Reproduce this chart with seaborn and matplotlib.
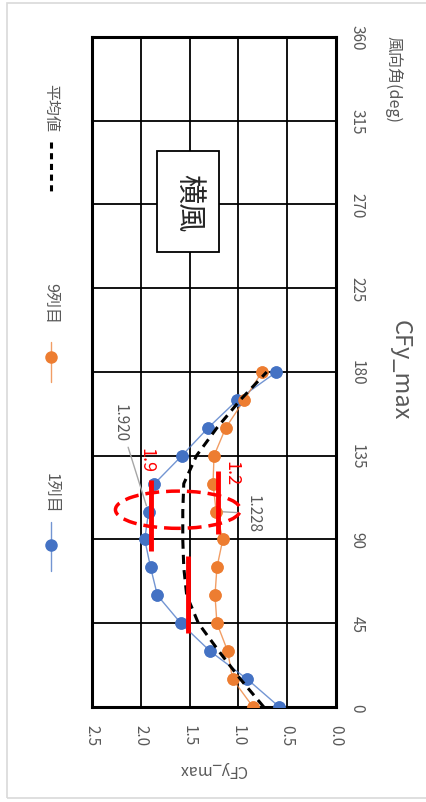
import matplotlib
matplotlib.use("Agg")
import matplotlib.pyplot as plt
from matplotlib.patches import Ellipse, Rectangle
from matplotlib.lines import Line2D
import seaborn as sns

sns.set_style("white")
plt.rcParams['font.family'] = ['Noto Sans CJK JP', 'DejaVu Sans']

# wind angle (deg) and CFy_max values
angles = [0, 15, 30, 45, 60, 75, 90, 105, 120, 135, 150, 165, 180]
col1 = [0.58, 0.91, 1.29, 1.59, 1.83, 1.90, 1.96, 1.92, 1.86, 1.58, 1.31, 1.01, 0.61]
col9 = [0.85, 1.06, 1.11, 1.22, 1.24, 1.22, 1.16, 1.228, 1.26, 1.25, 1.13, 0.94, 0.76]
mean = [0.74, 0.98, 1.20, 1.41, 1.53, 1.56, 1.57, 1.57, 1.56, 1.43, 1.22, 0.98, 0.71]
val_ticks = [0.0, 0.5, 1.0, 1.5, 2.0, 2.5]
ang_ticks = [0, 45, 90, 135, 180, 225, 270, 315, 360]

blue = '#4472C4'
orange = '#ED7D31'
grey = '#595959'

fig = plt.figure(figsize=(4.27, 8.03), dpi=100)
ax = fig.add_axes([0.2155, 0.1183, 0.5714, 0.8344])

# chart is drawn rotated: value on x (reversed), angle on y
sns.lineplot(x=col1, y=angles, orient='y', ax=ax, color=blue, lw=1, alpha=0.75,
             marker='o', markersize=9, markeredgewidth=0, zorder=4)
sns.lineplot(x=col9, y=angles, orient='y', ax=ax, color=orange, lw=1, alpha=0.75,
             marker='o', markersize=9, markeredgewidth=0, zorder=4)
# redraw markers fully opaque
ax.plot(col1, angles, 'o', color=blue, markersize=9, markeredgewidth=0, zorder=4)
ax.plot(col9, angles, 'o', color=orange, markersize=9, markeredgewidth=0, zorder=4)
sns.lineplot(x=mean, y=angles, orient='y', ax=ax, color='black', lw=2.2,
             linestyle=(0, (3, 2)), zorder=5)

ax.set_xlim(2.5, 0)
ax.set_ylim(0, 360)
ax.set_xticks(val_ticks)
ax.set_xticklabels([f'{v:.1f}' for v in val_ticks], rotation=-90, color=grey, fontsize=11)
ax.set_yticks(ang_ticks)
ax.set_yticklabels([str(a) for a in ang_ticks], rotation=-90, color=grey, fontsize=11,
                   va='center')
ax.yaxis.tick_right()
ax.tick_params(axis='x', length=0, pad=12)
ax.tick_params(axis='y', length=0, pad=9)
ax.grid(True, color='black', lw=1.3)
ax.set_axisbelow(True)
for s in ax.spines.values():
    s.set_visible(True)
    s.set_color('black')
    s.set_linewidth(2.2)
ax.set_xlabel('')
ax.set_ylabel('')

# red marks
ax.plot([1.9, 1.9], [84, 122], color='red', lw=3.5, zorder=6, solid_capstyle='butt')
ax.plot([1.21, 1.21], [93, 127], color='red', lw=3.5, zorder=6, solid_capstyle='butt')
ax.plot([1.52, 1.52], [40, 81], color='red', lw=3.5, zorder=6, solid_capstyle='butt')
ax.add_patch(Ellipse((1.62, 106), 1.28, 20, fill=False, edgecolor='red', lw=2.5,
                     linestyle=(0, (4, 2)), zorder=6))
ax.text(1.94, 133, '1.9', color='red', rotation=-90, fontsize=13, ha='center', va='center', zorder=7)
ax.text(1.07, 126, '1.2', color='red', rotation=-90, fontsize=13, ha='center', va='center', zorder=7)

# data labels
ax.annotate('1.920', xy=(1.93, 106), xytext=(2.21, 153), rotation=-90, color=grey,
            fontsize=11, ha='center', va='center',
            arrowprops=dict(arrowstyle='-', color='#a6a6a6', lw=1, shrinkA=2, shrinkB=3))
ax.annotate('1.228', xy=(1.20, 105), xytext=(0.85, 104), rotation=-90, color=grey,
            fontsize=11, ha='center', va='center',
            arrowprops=dict(arrowstyle='-', color='#a6a6a6', lw=1, shrinkA=2, shrinkB=3))

# 横風 box
ax.add_patch(Rectangle((1.20, 244.5), 0.63, 54.5, facecolor='white', edgecolor='black',
                       lw=1.3, zorder=6))
ax.text(1.515, 271.5, '横風', rotation=-90, fontsize=21, ha='center', va='center',
        color='#262626', zorder=7)

# titles
fig.text(400 / 427, 1 - 370 / 803, 'CFy_max', rotation=-90, fontsize=17, color=grey,
         ha='center', va='center')
fig.text(393 / 427, 1 - 80 / 803, '風向角(deg)', rotation=-90, fontsize=11.5, color=grey,
         ha='center', va='center')
fig.text(213 / 427, 1 - 770 / 803, 'CFy_max', rotation=180, fontsize=11.5, color=grey,
         ha='center', va='center')

# legend (rotated)
lx = 51 / 427
def fy(p):
    return 1 - p / 803
fig.add_artist(Line2D([lx, lx], [fy(523), fy(572)], color=blue, lw=1, alpha=0.75))
fig.add_artist(Line2D([lx], [fy(546)], color=blue, marker='o', markersize=9, markeredgewidth=0))
fig.text(lx, fy(493), '1列目', rotation=-90, fontsize=11.5, color=grey, ha='center', va='center')
fig.add_artist(Line2D([lx, lx], [fy(343), fy(383)], color=orange, lw=1, alpha=0.75))
fig.add_artist(Line2D([lx], [fy(358)], color=orange, marker='o', markersize=9, markeredgewidth=0))
fig.text(lx, fy(304), '9列目', rotation=-90, fontsize=11.5, color=grey, ha='center', va='center')
fig.add_artist(Line2D([lx, lx], [fy(143), fy(193)], color='black', lw=2.2, linestyle=(0, (2, 1.5))))
fig.text(lx, fy(108), '平均値', rotation=-90, fontsize=11.5, color=grey, ha='center', va='center')

# outer frame
fig.add_artist(Rectangle((7 / 427, 1 - 799 / 803), 1.0, 795 / 803, transform=fig.transFigure,
                         fill=False, edgecolor='#d9d9d9', lw=1.2))

fig.savefig('out.png', dpi=100)
